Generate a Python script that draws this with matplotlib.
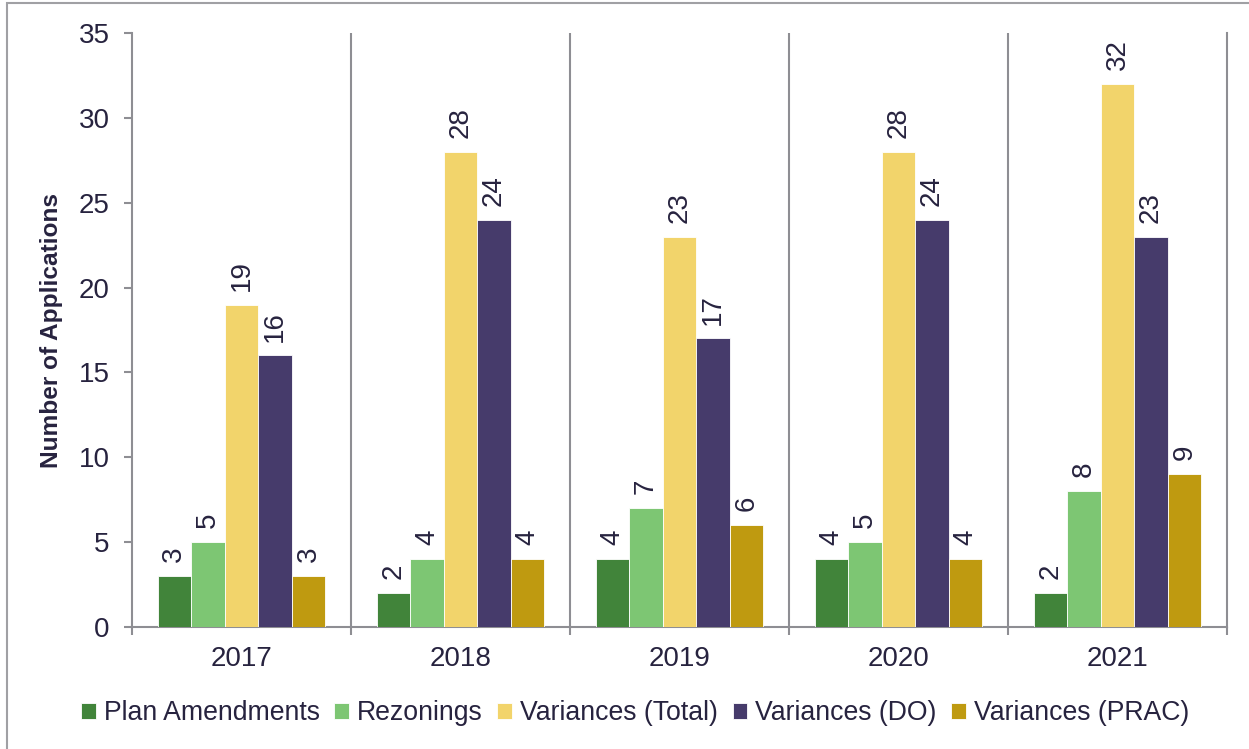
import matplotlib
matplotlib.use("Agg")
import matplotlib.pyplot as plt
import numpy as np
from matplotlib.patches import Rectangle

years = ["2017", "2018", "2019", "2020", "2021"]
series_names = ["Plan Amendments", "Rezonings", "Variances (Total)",
                "Variances (DO)", "Variances (PRAC)"]
plan_amendments = [3, 2, 4, 4, 2]
rezonings = [5, 4, 7, 5, 8]
variances_total = [19, 28, 23, 28, 32]
variances_do = [16, 24, 17, 24, 23]
variances_prac = [3, 4, 6, 4, 9]
y_ticks = [0, 5, 10, 15, 20, 25, 30, 35]

colors = ["#41843a", "#7dc673", "#f2d46b", "#463b6b", "#bf9a10"]
text_color = "#27233f"
line_color = "#8e8e93"

plt.rcParams["font.family"] = ["Liberation Sans", "DejaVu Sans"]

fig = plt.figure(figsize=(12.49, 7.49), dpi=100)
ax = fig.add_axes([132 / 1249, 1 - 627 / 749, (1227 - 132) / 1249, (627 - 33) / 749])

# frame around the figure (top and left edges visible)
fig.patches.append(Rectangle((7 / 1249, -0.05), 1.2, 1 - 3 / 749 + 0.05,
                             transform=fig.transFigure, fill=False,
                             edgecolor="#a0a0a4", linewidth=1.5, zorder=0))

all_series = [plan_amendments, rezonings, variances_total, variances_do, variances_prac]
n = len(all_series)
x = np.arange(len(years))
group_w = 0.767
bw = group_w / n

for i, (name, vals, c) in enumerate(zip(series_names, all_series, colors)):
    pos = x - group_w / 2 + bw * (i + 0.5)
    bars = ax.bar(pos, vals, width=bw, color=c, edgecolor="white",
                  linewidth=0.6, label=name, zorder=3)
    for b, v in zip(bars, vals):
        ax.annotate(str(v), (b.get_x() + b.get_width() / 2, v),
                    xytext=(0, 10), textcoords="offset points",
                    rotation=90, ha="center", va="bottom",
                    fontsize=20, color=text_color)

ax.set_xlim(-0.5, len(years) - 0.5)
ax.set_ylim(0, 35)
ax.set_yticks(y_ticks)
ax.tick_params(axis="y", labelsize=20, labelcolor=text_color, color=line_color,
               length=6, width=1.5, pad=10)

# category separators as major ticks + vertical lines, labels on minor ticks
bounds = np.arange(len(years) + 1) - 0.5
ax.set_xticks(bounds)
ax.set_xticklabels([])
ax.set_xticks(x, minor=True)
ax.set_xticklabels(years, minor=True)
ax.tick_params(axis="x", which="major", color=line_color, length=6, width=1.5)
ax.tick_params(axis="x", which="minor", length=0, labelsize=20,
               labelcolor=text_color, pad=14)
for bnd in bounds[1:-1]:
    ax.axvline(bnd, color=line_color, linewidth=1.5, zorder=1)

for side in ["left", "right", "bottom"]:
    ax.spines[side].set_color(line_color)
    ax.spines[side].set_linewidth(1.5)
ax.spines["top"].set_visible(False)

ax.set_ylabel("Number of Applications", fontsize=17.6, fontweight="bold",
              color=text_color, labelpad=11)

leg = fig.legend(loc="center", bbox_to_anchor=(635 / 1249, 1 - 713 / 749),
                 ncol=5, frameon=False, fontsize=19.2, handlelength=0.55,
                 handleheight=0.55, handletextpad=0.3, columnspacing=0.55,
                 labelcolor=text_color)

fig.savefig("out.png", dpi=100)
